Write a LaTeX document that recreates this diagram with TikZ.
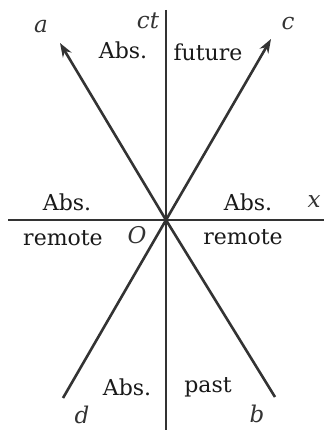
\documentclass[tikz,border=0pt]{standalone}
\usepackage{fontspec}
\setmainfont{DejaVu Serif}
\usetikzlibrary{arrows.meta}
\begin{document}
\begin{tikzpicture}[x=1pt,y=-1pt,
  axis/.style={line width=1.6pt,draw=black!80},
  cone/.style={line width=2.6pt,draw=black!80},
  tip/.style={-{Stealth[length=14pt,width=10pt]}},
  lbl/.style={font=\fontsize{22}{24}\selectfont,text=black!90,inner sep=0pt},
  var/.style={font=\fontsize{23}{25}\selectfont\itshape,text=black!80,inner sep=0pt}]
\useasboundingbox (0,0) rectangle (324,430);
\coordinate (O) at (166,220);
\coordinate (ytop) at (166,10);
\coordinate (ybot) at (166,430);
\coordinate (xl) at (8,220);
\coordinate (xr) at (324,220);
\coordinate (A) at (60,43);
\coordinate (C) at (271,39);
\coordinate (D) at (63,398);
\coordinate (B) at (275,397);
\draw[axis] (ytop) -- (ybot);
\draw[axis] (xl) -- (xr);
\draw[cone,tip] (O) -- (A);
\draw[cone,tip] (O) -- (C);
\draw[cone] (O) -- (D);
\draw[cone] (O) -- (B);
\node[var] (la) at (41,27) {a};
\node[var] (lct) at (148,21) {ct};
\node[var] (lc) at (288,24) {c};
\node[var] (lx) at (314,202) {x};
\node[var] (lO) at (137,235) {O};
\node[var] (ld) at (82,415) {d};
\node[var] (lb) at (257,414) {b};
\node[lbl] (t1) at (123,50) {Abs.};
\node[lbl] (t2) at (208,52) {future};
\node[lbl] (t3) at (67,202) {Abs.};
\node[lbl] (t4) at (63,238) {remote};
\node[lbl] (t5) at (248,202) {Abs.};
\node[lbl] (t6) at (243,237) {remote};
\node[lbl] (t7) at (127,387) {Abs.};
\node[lbl] (t8) at (208,387) {past};
\end{tikzpicture}
\end{document}
